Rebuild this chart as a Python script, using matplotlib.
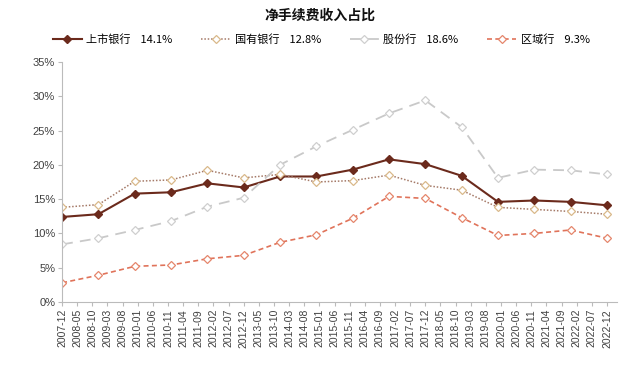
import matplotlib
matplotlib.use("Agg")
import matplotlib.pyplot as plt
import numpy as np

plt.rcParams['font.family'] = ['Noto Sans CJK SC', 'DejaVu Sans']

# yearly points, Dec 2007 .. Dec 2022
years = list(range(2007, 2023))
listed = [12.4, 12.8, 15.8, 16.0, 17.3, 16.7, 18.3, 18.3, 19.3, 20.8, 20.1, 18.4, 14.6, 14.8, 14.6, 14.1]
state = [13.8, 14.2, 17.6, 17.8, 19.2, 18.1, 18.6, 17.5, 17.7, 18.5, 17.0, 16.3, 13.8, 13.5, 13.2, 12.8]
joint = [8.4, 9.3, 10.5, 11.8, 13.9, 15.2, 20.0, 22.7, 25.1, 27.5, 29.4, 25.5, 18.1, 19.3, 19.2, 18.6]
regional = [2.8, 3.9, 5.2, 5.4, 6.3, 6.8, 8.7, 9.8, 12.2, 15.4, 15.1, 12.3, 9.7, 10.0, 10.5, 9.3]
names = ['上市银行', '国有银行', '股份行', '区域行']
latest = ['14.1%', '12.8%', '18.6%', '9.3%']

# month index from 2007-12
xm = [(y - 2007) * 12 for y in years]
tick_m = list(range(0, 181, 5))
tick_lab = []
for m in tick_m:
    yy = 2007 + (11 + m) // 12
    mm = (11 + m) % 12 + 1
    tick_lab.append("%d-%02d" % (yy, mm))

fig = plt.figure(figsize=(6.4, 3.71), dpi=100)
ax = fig.add_axes([0.097, 0.186, 0.867, 0.647])

l1, = ax.plot(xm, listed, color='#6B2A1C', lw=1.5, marker='D', ms=3.8,
              mfc='#6B2A1C', mec='#6B2A1C')
l2, = ax.plot(xm, state, color='#A57A68', lw=1.1, ls=(0, (1, 1.2)), marker='D', ms=4.3,
              mfc='white', mec='#D9B98A', mew=0.9)
l3, = ax.plot(xm, joint, color='#C9C9C9', lw=1.3, ls=(0, (6, 4)), marker='D', ms=4.3,
              mfc='white', mec='#CFCFCF', mew=0.9)
l4, = ax.plot(xm, regional, color='#E0735A', lw=1.2, ls=(0, (3, 2)), marker='D', ms=4.3,
              mfc='white', mec='#E5866C', mew=0.9)

ax.set_ylim(0, 35)
ax.set_yticks(np.arange(0, 36, 5))
ax.set_yticklabels(['%d%%' % v for v in range(0, 36, 5)], fontsize=8, color='#404040',
                   family='Liberation Sans')
ax.set_xlim(0, 183.3)
ax.set_xticks(tick_m)
ax.set_xticklabels(tick_lab, rotation=90, fontsize=7.5, color='#404040', family='Liberation Sans')
ax.tick_params(axis='both', length=3, color='#BBBBBB', width=0.8, pad=2)

for s in ['top', 'right']:
    ax.spines[s].set_visible(False)
ax.spines['left'].set_color('#BBBBBB')
ax.spines['bottom'].set_color('#BBBBBB')

fig.text(0.5, 0.958, '净手续费收入占比', ha='center', va='center', fontsize=10,
         fontweight='bold', color='#111111')

labels = [n + '    ' + v for n, v in zip(names, latest)]
fig.legend([l1, l2, l3, l4], labels, loc='center', bbox_to_anchor=(0.502, 0.893), ncol=4,
           frameon=False, columnspacing=2.6, handlelength=2.6,
           handletextpad=0.4, prop={'family': ['Noto Sans CJK SC', 'Liberation Sans'], 'size': 8})

fig.savefig('out.png', dpi=100)
